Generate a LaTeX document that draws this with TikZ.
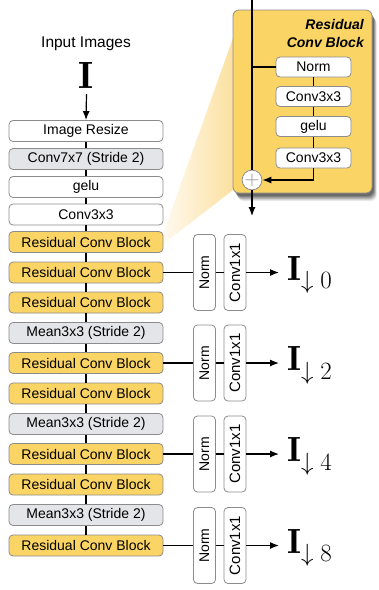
\documentclass[tikz,border=0pt]{standalone}
\usepackage{fontspec}
\newfontfamily\hv{Liberation Sans}
\usetikzlibrary{arrows.meta}
\definecolor{blk}{HTML}{FAD465}
\definecolor{gry}{HTML}{E4E5E9}
\definecolor{brd}{HTML}{8C8C8C}
\definecolor{wedgec}{HTML}{FCE0A0}
\begin{document}
\begin{tikzpicture}[x=1pt,y=-1pt,
 box/.style={draw=brd, line width=0.8pt, rounded corners=4pt, minimum width=154pt, minimum height=21pt, inner sep=0pt, font=\hv\fontsize{14}{16}\selectfont},
 rcb/.style={box, fill=blk}, gbox/.style={box, fill=gry}, wbox/.style={box, fill=white},
 sbox/.style={draw=brd, line width=0.8pt, rounded corners=4pt, fill=white, minimum width=22pt, minimum height=76pt, inner sep=0pt, font=\hv\fontsize{14}{16}\selectfont},
 ibox/.style={draw=brd, line width=0.8pt, rounded corners=4pt, fill=white, minimum width=75pt, minimum height=20pt, inner sep=0pt, font=\hv\fontsize{14}{16}\selectfont},
 con/.style={line width=1.2pt, black},
 arr/.style={con, -{Latex[length=9pt,width=7pt]}},
 outl/.style={anchor=base west, inner xsep=8pt, inner ysep=0pt, font=\fontsize{35}{40}\selectfont}
]
\useasboundingbox (0,0) rectangle (379,590);
% wedge
\shade[left color=wedgec!10!white, right color=wedgec] (158,248) -- (233,38) -- (233,190) -- cycle;
% inset shadow
\foreach \d/\o in {8/0.08,7/0.1,6/0.12,5/0.14,4/0.16,3/0.2}
  \fill[black, opacity=\o, rounded corners=6pt] (233+0.6*\d,10+\d) rectangle (372+0.6*\d,193+\d);
\node[draw=brd, fill=blk, rounded corners=6pt, line width=0.8pt, minimum width=139pt, minimum height=183pt, inner sep=0pt] (inset) at (302.5,101.5) {};
\node[anchor=east, font=\hv\bfseries\itshape\fontsize{14}{18}\selectfont, align=right, inner sep=0pt] (ttl) at (364,33) {Residual\\Conv Block};
\node[ibox] (inorm) at (313.5,67) {Norm};
\node[ibox] (ic1) at (313.5,96.5) {Conv3x3};
\node[ibox] (igelu) at (313.5,126.5) {gelu};
\node[ibox] (ic2) at (313.5,158) {Conv3x3};
\node[circle, draw=brd, fill=white, minimum size=16pt, inner sep=0pt, line width=0.8pt] (plus) at (252,180) {\fontsize{21}{21}\selectfont\color{brd}$+$};
\coordinate (itop) at (252,0);
\coordinate (ibot) at (252,216);
\draw[con] (itop) -- (plus);
\draw[con] (inorm.west) -- (inorm.west -| itop);
\draw[con] (inorm) -- (ic1);
\draw[con] (ic1) -- (igelu);
\draw[con] (igelu) -- (ic2);
\draw[arr] (ic2.south) |- (plus.east);
\draw[arr] (plus) -- (ibot);
% main column
\node[font=\hv\fontsize{15.5}{18}\selectfont] (inlbl) at (86,44) {Input Images};
\node[anchor=base, inner xsep=0pt, inner ysep=6pt, font=\fontsize{38}{40}\selectfont] (imgI) at (86.5,88) {$\mathbf{I}$};
\node[wbox] (ir) at (86,131) {Image Resize};
\node[gbox] (c7) at (86,159) {Conv7x7 (Stride 2)};
\node[wbox] (ge) at (86,187) {gelu};
\node[wbox] (c3) at (86,214.5) {Conv3x3};
\node[rcb] (r1) at (86,242) {Residual Conv Block};
\node[rcb] (r2) at (86,272.5) {Residual Conv Block};
\node[rcb] (r3) at (86,302.5) {Residual Conv Block};
\node[gbox] (m1) at (86,333) {Mean3x3 (Stride 2)};
\node[rcb] (r4) at (86,363) {Residual Conv Block};
\node[rcb] (r5) at (86,393.5) {Residual Conv Block};
\node[gbox] (m2) at (86,424) {Mean3x3 (Stride 2)};
\node[rcb] (r6) at (86,454) {Residual Conv Block};
\node[rcb] (r7) at (86,484.5) {Residual Conv Block};
\node[gbox] (m3) at (86,515) {Mean3x3 (Stride 2)};
\node[rcb] (r8) at (86,545.5) {Residual Conv Block};
\draw[arr] (imgI.south) -- (ir.north);
\foreach \a/\b in {ir/c7,c7/ge,ge/c3,c3/r1,r1/r2,r2/r3,r3/m1,m1/r4,r4/r5,r5/m2,m2/r6,r6/r7,r7/m3,m3/r8}
  \draw[con] (\a) -- (\b);
% branches
\foreach \k/\src/\y/\s in {1/r2/272.5/0,2/r4/363/2,3/r6/454/4,4/r8/545.5/8}{
  \node[sbox] (n\k) at (204.5,\y) {\rotatebox{90}{Norm}};
  \node[sbox, font=\hv\fontsize{15}{16}\selectfont] (cv\k) at (235,\y) {\rotatebox{90}{Conv1x1}};
  \node[outl] (o\k) at (279,\y+7.5) {$\mathbf{I}_{\downarrow\;\s}$};
  \draw[con] (\src.east) -- (n\k.west);
  \draw[con] (n\k.east) -- (cv\k.west);
  \draw[arr] (cv\k.east) -- (cv\k.east -| o\k.west);
}
\end{tikzpicture}
\end{document}
